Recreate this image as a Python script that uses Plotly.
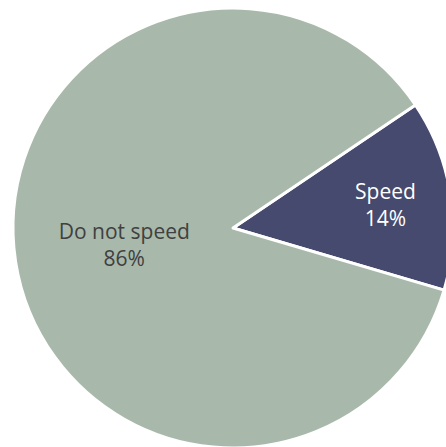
import plotly.graph_objects as go

labels = ["Speed", "Do not speed"]
values = [14, 86]
colors = ["#464a6e", "#a8b9ab"]
text_colors = ["#ffffff", "#404040"]

fig = go.Figure(go.Pie(
    labels=labels,
    values=values,
    sort=False,
    direction="clockwise",
    rotation=56,
    marker=dict(colors=colors, line=dict(color="#ffffff", width=3)),
    textinfo="label+percent",
    texttemplate="%{label}<br>%{percent:.0%}",
    textposition="inside",
    insidetextorientation="horizontal",
    textfont=dict(family="Open Sans", size=21, color=text_colors),
    hoverinfo="skip",
    showlegend=False,
))

fig.update_layout(
    width=466,
    height=456,
    margin=dict(l=13, r=13, t=8, b=8),
    paper_bgcolor="#ffffff",
    plot_bgcolor="#ffffff",
)

fig.write_html(
    "out.html",
    config={"displayModeBar": False},
    post_script="document.body.style.margin='0';document.body.style.overflow='hidden';document.documentElement.style.overflow='hidden';",
)
